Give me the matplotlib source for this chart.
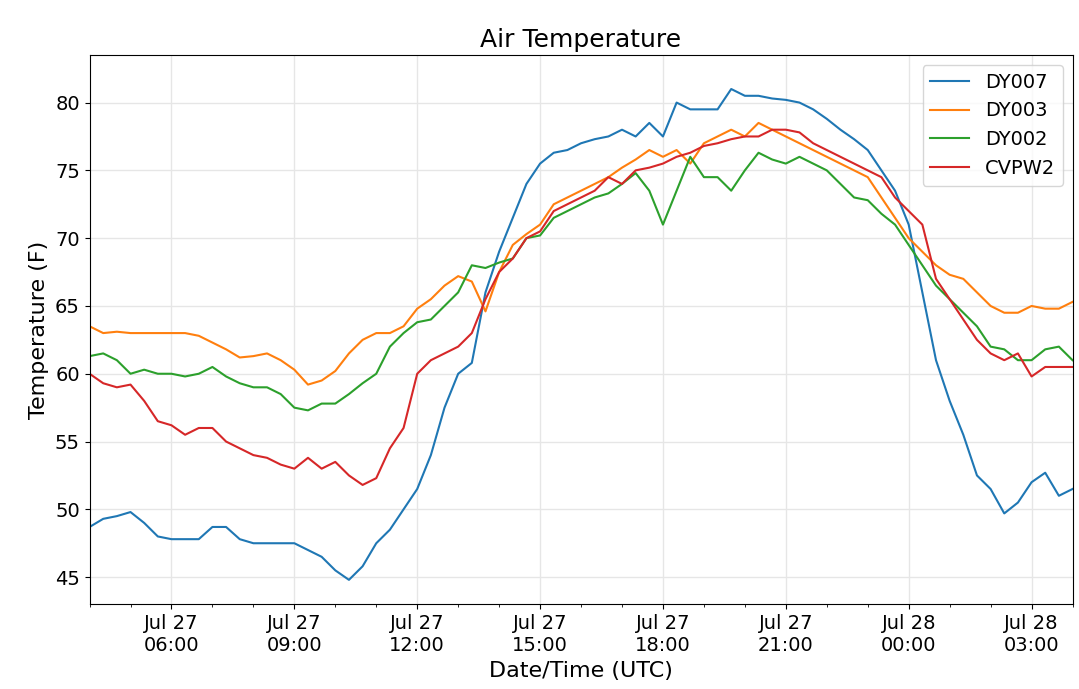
import matplotlib
matplotlib.use("Agg")
import matplotlib.pyplot as plt
import matplotlib.dates as mdates
import pandas as pd

start = "2018-07-27 04:00"
labels = ["DY007", "DY003", "DY002", "CVPW2"]

dy007 = [48.7, 49.3, 49.5, 49.8, 49.0, 48.0, 47.8, 47.8, 47.8, 48.7, 48.7, 47.8, 47.5, 47.5, 47.5, 47.5,
         47.0, 46.5, 45.5, 44.8, 45.8, 47.5, 48.5, 50.0, 51.5, 54.0, 57.5, 60.0, 60.8, 66.0, 69.0, 71.5,
         74.0, 75.5, 76.3, 76.5, 77.0, 77.3, 77.5, 78.0, 77.5, 78.5, 77.5, 80.0, 79.5, 79.5, 79.5, 81.0,
         80.5, 80.5, 80.3, 80.2, 80.0, 79.5, 78.8, 78.0, 77.3, 76.5, 75.0, 73.5, 71.0, 66.0, 61.0, 58.0,
         55.5, 52.5, 51.5, 49.7, 50.5, 52.0, 52.7, 51.0, 51.5]
dy003 = [63.5, 63.0, 63.1, 63.0, 63.0, 63.0, 63.0, 63.0, 62.8, 62.3, 61.8, 61.2, 61.3, 61.5, 61.0, 60.3,
         59.2, 59.5, 60.2, 61.5, 62.5, 63.0, 63.0, 63.5, 64.8, 65.5, 66.5, 67.2, 66.8, 64.6, 67.5, 69.5,
         70.3, 71.0, 72.5, 73.0, 73.5, 74.0, 74.5, 75.2, 75.8, 76.5, 76.0, 76.5, 75.5, 77.0, 77.5, 78.0,
         77.5, 78.5, 78.0, 77.5, 77.0, 76.5, 76.0, 75.5, 75.0, 74.5, 73.0, 71.5, 70.0, 69.0, 68.0, 67.3,
         67.0, 66.0, 65.0, 64.5, 64.5, 65.0, 64.8, 64.8, 65.3]
dy002 = [61.3, 61.5, 61.0, 60.0, 60.3, 60.0, 60.0, 59.8, 60.0, 60.5, 59.8, 59.3, 59.0, 59.0, 58.5, 57.5,
         57.3, 57.8, 57.8, 58.5, 59.3, 60.0, 62.0, 63.0, 63.8, 64.0, 65.0, 66.0, 68.0, 67.8, 68.2, 68.5,
         70.0, 70.2, 71.5, 72.0, 72.5, 73.0, 73.3, 74.0, 74.8, 73.5, 71.0, 73.5, 76.0, 74.5, 74.5, 73.5,
         75.0, 76.3, 75.8, 75.5, 76.0, 75.5, 75.0, 74.0, 73.0, 72.8, 71.8, 71.0, 69.5, 68.0, 66.5, 65.5,
         64.5, 63.5, 62.0, 61.8, 61.0, 61.0, 61.8, 62.0, 61.0]
cvpw2 = [60.0, 59.3, 59.0, 59.2, 58.0, 56.5, 56.2, 55.5, 56.0, 56.0, 55.0, 54.5, 54.0, 53.8, 53.3, 53.0,
         53.8, 53.0, 53.5, 52.5, 51.8, 52.3, 54.5, 56.0, 60.0, 61.0, 61.5, 62.0, 63.0, 65.5, 67.5, 68.5,
         70.0, 70.5, 72.0, 72.5, 73.0, 73.5, 74.5, 74.0, 75.0, 75.2, 75.5, 76.0, 76.3, 76.8, 77.0, 77.3,
         77.5, 77.5, 78.0, 78.0, 77.8, 77.0, 76.5, 76.0, 75.5, 75.0, 74.5, 73.0, 72.0, 71.0, 67.0, 65.5,
         64.0, 62.5, 61.5, 61.0, 61.5, 59.8, 60.5, 60.5, 60.5]

colors = ["#1f77b4", "#ff7f0e", "#2ca02c", "#d62728"]

fig, ax = plt.subplots(figsize=(10.79, 6.89), dpi=100)
for vals, lab, c in zip([dy007, dy003, dy002, cvpw2], labels, colors):
    t = pd.date_range(start, periods=len(vals), freq="20min")
    ax.plot(t, vals, color=c, lw=1.5, label=lab)

ax.set_xlim(pd.Timestamp(start), pd.Timestamp(start) + pd.Timedelta(hours=24))
ax.set_ylim(43.0, 83.5)
ax.xaxis.set_major_locator(mdates.HourLocator(byhour=[0, 3, 6, 9, 12, 15, 18, 21]))
ax.xaxis.set_major_formatter(mdates.DateFormatter("%b %d\n%H:%M"))
ax.xaxis.set_minor_locator(mdates.HourLocator())
ax.grid(True, color="#e6e6e6", lw=1)
ax.tick_params(labelsize=14)
for lbl in ax.get_xticklabels():
    lbl.set_ha("center")
ax.set_title("Air Temperature", fontsize=18)
ax.set_xlabel("Date/Time (UTC)", fontsize=16)
ax.set_ylabel("Temperature (F)", fontsize=16)
ax.legend(loc="upper right", fontsize=14)
fig.subplots_adjust(left=0.083, right=0.994, top=0.92, bottom=0.123)
fig.savefig("out.png")
